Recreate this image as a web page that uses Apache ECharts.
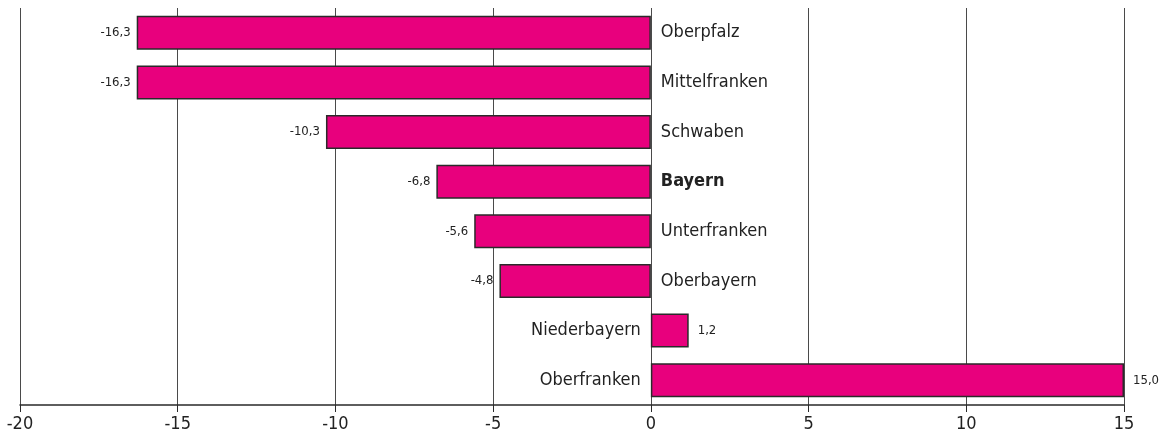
<!DOCTYPE html>
<html>
<head>
<meta charset="utf-8">
<script src="https://cdn.jsdelivr.net/npm/echarts@6/dist/echarts.min.js"></script>
<style>
  html, body { margin: 0; padding: 0; background: #fff; }
  #main { width: 1167px; height: 443px; }
</style>
</head>
<body>
<div id="main"></div>
<script>
// Regierungsbezirke, von oben nach unten
var categories = ["Oberpfalz", "Mittelfranken", "Schwaben", "Bayern", "Unterfranken", "Oberbayern", "Niederbayern", "Oberfranken"];
var values = [-16.3, -16.3, -10.3, -6.8, -5.6, -4.8, 1.2, 15.0];
var boldCategory = "Bayern";

var FONT = '"Liberation Sans Narrow", "DejaVu Sans Condensed", "Roboto", sans-serif';

function fmt(v) {
  return v.toFixed(1).replace(".", ",");
}

// Balken mit Wertbeschriftung am Balkenende
var barData = values.map(function (v) {
  return {
    value: v,
    label: { position: v < 0 ? "left" : "right", distance: v < 0 ? 6 : 9 }
  };
});

// unsichtbare Kopie, nur fuer die Namen an der Nulllinie
var nameData = values.map(function (v, i) {
  return {
    value: v,
    label: {
      position: v < 0 ? "right" : "left",
      distance: 10,
      fontWeight: categories[i] === boldCategory ? "bold" : "normal"
    }
  };
});

var myChart = echarts.init(document.getElementById("main"));
myChart.setOption({
  animation: false,
  grid: { left: 20, right: 43, top: 8, bottom: 38 },
  xAxis: {
    type: "value",
    min: -20,
    max: 15,
    interval: 5,
    axisLine: { show: true, lineStyle: { color: "#2a2a2a", width: 1.5 } },
    axisTick: { show: true, length: 7, lineStyle: { color: "#2a2a2a", width: 1 } },
    axisLabel: { color: "#222", fontSize: 18, fontFamily: FONT, margin: 10 },
    splitLine: { show: true, lineStyle: { color: "#4a4a4a", width: 1 } }
  },
  yAxis: {
    type: "category",
    data: categories,
    inverse: true,
    axisLine: { show: false },
    axisTick: { show: false },
    axisLabel: { show: false },
    splitLine: { show: false }
  },
  series: [
    {
      type: "bar",
      data: barData,
      barWidth: 34,
      itemStyle: { color: "#E8007D", borderColor: "#2a2a2a", borderWidth: 1.5 },
      label: {
        show: true,
        color: "#222",
        fontSize: 13,
        fontFamily: FONT,
        formatter: function (p) { return fmt(p.value); }
      },
      z: 3
    },
    {
      type: "bar",
      data: nameData,
      barWidth: 34,
      barGap: "-100%",
      itemStyle: { color: "rgba(0,0,0,0)" },
      label: {
        show: true,
        color: "#222",
        fontSize: 18,
        fontFamily: FONT,
        formatter: function (p) { return categories[p.dataIndex]; }
      },
      silent: true,
      z: 4
    }
  ]
});
</script>
</body>
</html>
